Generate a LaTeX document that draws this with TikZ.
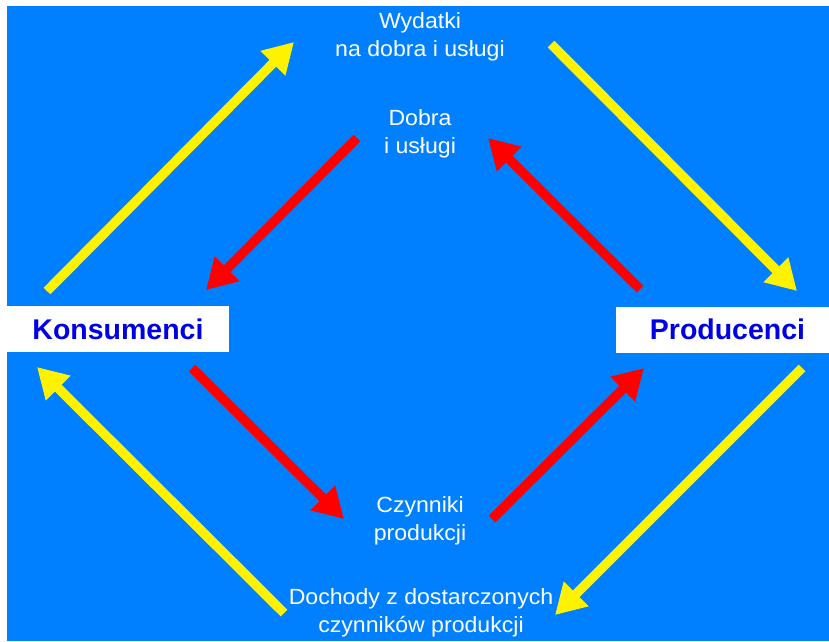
\documentclass[tikz,border=0pt]{standalone}
\usepackage{fontspec}
\setmainfont{Liberation Sans}
\newfontfamily\widefont[FakeStretch=1.05]{Liberation Sans}
\usetikzlibrary{arrows.meta}
\definecolor{bg}{RGB}{0,128,255}
\definecolor{lbl}{RGB}{0,0,230}
\begin{document}
\begin{tikzpicture}[x=1pt,y=-1pt,
  wtext/.style={text=white,align=center,font=\widefont\fontsize{22}{28}\selectfont,inner sep=0pt},
  boxnode/.style={fill=white,text=lbl,font=\fontsize{28.5}{30}\selectfont\bfseries,inner sep=0pt,minimum height=46pt},
  yarr/.style={draw=yellow,line width=9.5pt,-{Triangle[length=30pt,width=33pt]}},
  rarr/.style={draw=red,line width=9.5pt,-{Triangle[length=30pt,width=33pt]}}]
\useasboundingbox (0,0) rectangle (829,641);
\fill[bg] (7,6) rectangle (829,641);
% boxes
\node[boxnode,minimum width=222pt] (kons) at (118,329) {Konsumenci};
\node[boxnode,minimum width=213pt] (prod) at (722.5,329.5) {\hspace*{10pt}Producenci};
% texts
\node[wtext] (wyd) at (420,37) {Wydatki\\na dobra i usługi};
\node[wtext] (dob) at (420,134) {Dobra\\i usługi};
\node[wtext] (czy) at (420,521) {Czynniki\\produkcji};
\node[wtext] (doch) at (421,613) {Dochody z dostarczonych\\czynników produkcji};
% arrow ends
\coordinate (y1s) at (47,291); \coordinate (y1e) at (294,42);
\coordinate (y2s) at (551,44); \coordinate (y2e) at (797,291);
\coordinate (y3s) at (802,368); \coordinate (y3e) at (555,615);
\coordinate (y4s) at (284,613); \coordinate (y4e) at (37,367);
\coordinate (r1s) at (357,138); \coordinate (r1e) at (206,290);
\coordinate (r2s) at (640,289); \coordinate (r2e) at (488,138);
\coordinate (r3s) at (192,368); \coordinate (r3e) at (344,519);
\coordinate (r4s) at (492,519); \coordinate (r4e) at (644,368);
\draw[yarr] (y1s) -- (y1e);
\draw[yarr] (y2s) -- (y2e);
\draw[yarr] (y3s) -- (y3e);
\draw[yarr] (y4s) -- (y4e);
\draw[rarr] (r1s) -- (r1e);
\draw[rarr] (r2s) -- (r2e);
\draw[rarr] (r3s) -- (r3e);
\draw[rarr] (r4s) -- (r4e);
\end{tikzpicture}
\end{document}
